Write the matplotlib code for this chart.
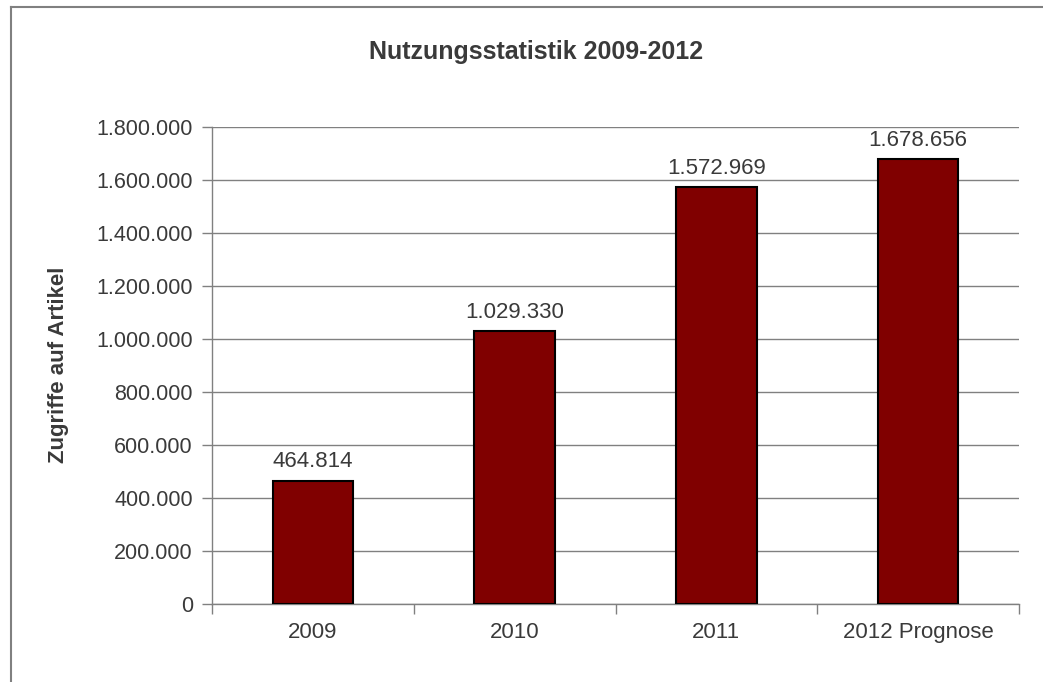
import matplotlib
matplotlib.use("Agg")
import matplotlib.pyplot as plt
from matplotlib.lines import Line2D
from matplotlib.ticker import FuncFormatter, MultipleLocator

categories = ["2009", "2010", "2011", "2012 Prognose"]
values = [464814, 1029330, 1572969, 1678656]
title = "Nutzungsstatistik 2009-2012"
ylabel = "Zugriffe auf Artikel"

def de_fmt(v):
    return f"{int(round(v)):,}".replace(",", ".")

plt.rcParams['font.family'] = ['Liberation Sans', 'DejaVu Sans']

W, H = 1043, 682
fig = plt.figure(figsize=(W / 100, H / 100), dpi=100)
ax = fig.add_axes([212 / W, 1 - 604 / H, (1019 - 212) / W, (604 - 127) / H])

x = list(range(len(categories)))
ax.bar(x, values, width=0.4, color="#800000", edgecolor="black", linewidth=1.5, zorder=3)
for xi, v in zip(x, values):
    ax.annotate(de_fmt(v), (xi, v), xytext=(0, 6), textcoords="offset points",
                ha="center", va="bottom", fontsize=16, color="#3a3a3a")

ax.set_xlim(-0.5, len(categories) - 0.5)
ax.set_ylim(0, 1800000)
ax.yaxis.set_major_locator(MultipleLocator(200000))
ax.yaxis.set_major_formatter(FuncFormatter(lambda v, p: de_fmt(v)))
ax.grid(axis="y", color="#808080", linewidth=1, zorder=0)

ax.set_xticks([i - 0.5 for i in range(len(categories) + 1)])
ax.set_xticklabels([])
ax.set_xticks(x, minor=True)
ax.set_xticklabels(categories, minor=True)
ax.tick_params(axis="x", which="major", length=7.2, width=1, color="#808080", direction="out")
ax.tick_params(axis="x", which="minor", length=0, pad=13, labelsize=16, labelcolor="#3a3a3a")
ax.tick_params(axis="y", length=7.2, width=1, color="#808080", direction="out",
               labelsize=15.5, labelcolor="#3a3a3a", pad=6.5)

for s in ["top", "right"]:
    ax.spines[s].set_visible(False)
for s in ["left", "bottom"]:
    ax.spines[s].set_color("#808080")
    ax.spines[s].set_linewidth(1)

ax.set_ylabel(ylabel, fontsize=16, fontweight="bold", color="#3a3a3a")
ax.yaxis.set_label_coords(69 / W, 1 - 365 / H, transform=fig.transFigure)
fig.text(536 / W, 1 - 52 / H, title, ha="center", va="center", fontsize=18,
         fontweight="bold", color="#3a3a3a")

fig.add_artist(Line2D([11 / W, 11 / W], [0, 1 - 7 / H], transform=fig.transFigure,
                      color="#808080", linewidth=1.5))
fig.add_artist(Line2D([11 / W, 1], [1 - 7 / H, 1 - 7 / H], transform=fig.transFigure,
                      color="#808080", linewidth=1.5))

fig.savefig("out.png", dpi=100, facecolor="white")
